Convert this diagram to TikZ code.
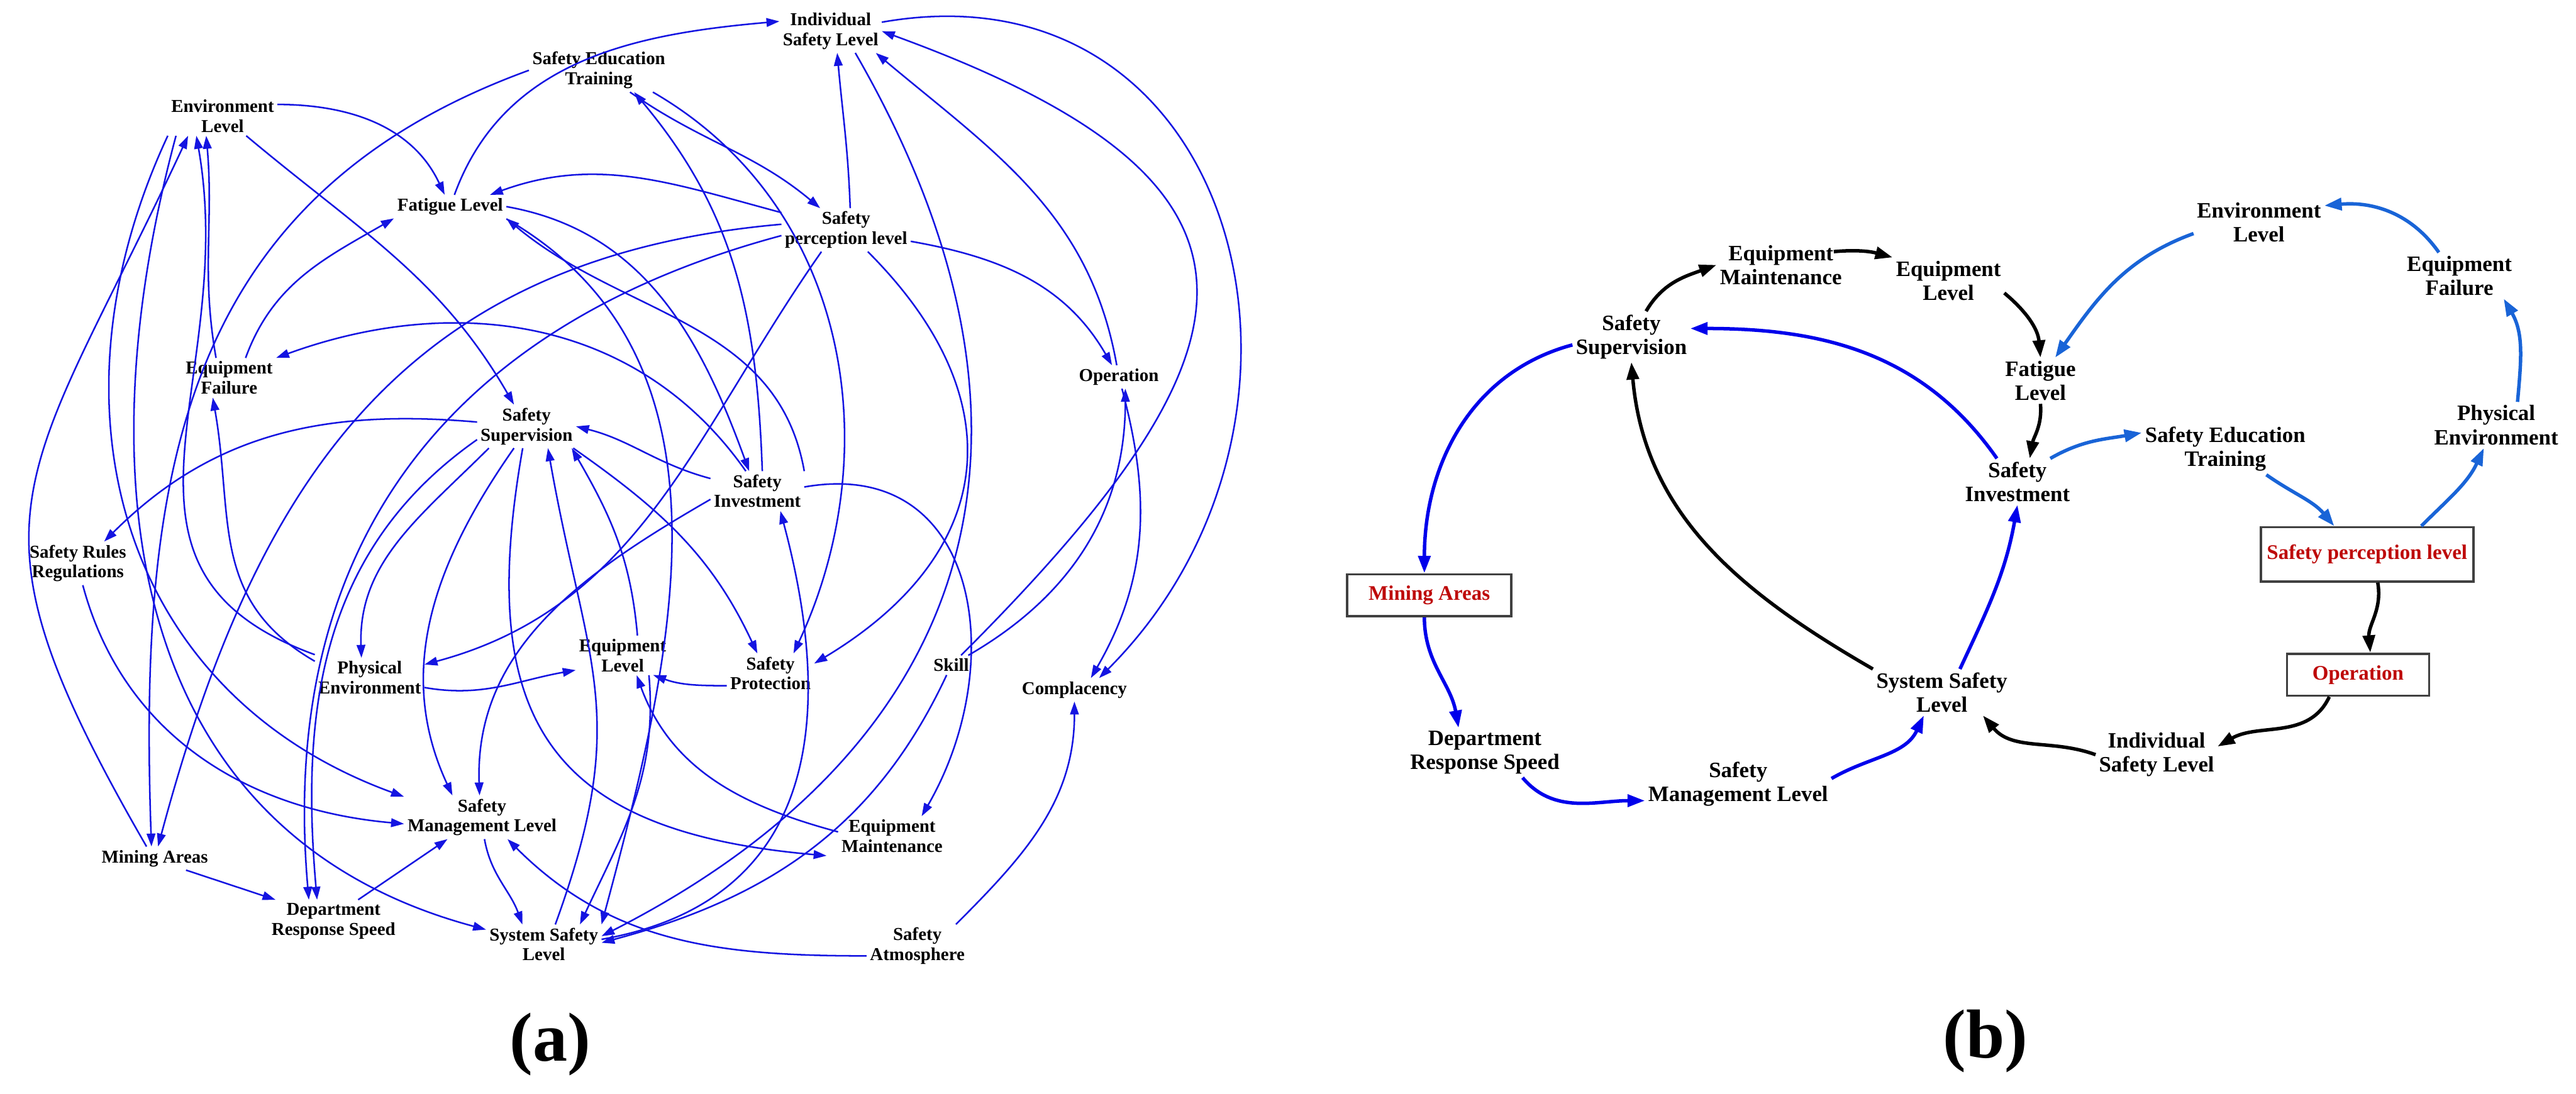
\documentclass[tikz,border=0pt]{standalone}
\usepackage{fontspec}
\setmainfont{Liberation Serif}
\usetikzlibrary{arrows.meta}
\definecolor{linka}{RGB}{20,20,225}
\definecolor{linkb}{RGB}{0,0,235}
\definecolor{linkc}{RGB}{25,100,215}
\definecolor{boxred}{RGB}{190,10,10}
\tikzstyle{vara} = [align=center, inner sep=1pt, font=\fontsize{6.3}{6.9}\selectfont\bfseries]
\tikzstyle{varb} = [align=center, inner sep=1pt, font=\fontsize{7.6}{8.3}\selectfont\bfseries]
\tikzstyle{keyvar} = [rectangle, draw=black!75, line width=0.8pt, fill=white, text=boxred,
    inner sep=1pt, font=\fontsize{7.2}{8}\selectfont\bfseries]
\tikzstyle{panel} = [font=\fontsize{24}{28}\selectfont\bfseries]
\tikzstyle{arra} = [color=linka, line width=0.55pt, -{Triangle[length=4.5pt,width=3pt]}]
\tikzstyle{arrb} = [color=linkb, line width=1.2pt, -{Triangle[length=6pt,width=4.2pt]}]
\tikzstyle{arrl} = [color=linkc, line width=1.2pt, -{Triangle[length=6pt,width=4.2pt]}]
\tikzstyle{arrk} = [color=black, line width=1.2pt, -{Triangle[length=6pt,width=4.2pt]}]

\begin{document}
\begin{tikzpicture}[x=0.02cm, y=0.02cm]
\useasboundingbox (0,0) rectangle (1568,-666);

\node (isl) [vara] at (505.6,-19) {Individual\\Safety Level};
\node (set) [vara] at (364.5,-42.8) {Safety Education\\Training};
\node (envl) [vara] at (135.5,-70.6) {Environment\\Level};
\node (fatig) [vara] at (274,-125.8) {Fatigue Level};
\node (spl) [vara] at (515,-140) {Safety\\perception level};
\node (oper) [vara] at (681,-229.5) {Operation};
\node (eqfail) [vara] at (139.5,-230) {Equipment\\Failure};
\node (superv) [vara] at (320.5,-259.6) {Safety\\Supervision};
\node (invest) [vara] at (461,-299) {Safety\\Investment};
\node (rules) [vara] at (47.4,-343) {Safety Rules\\Regulations};
\node (physenv) [vara] at (225,-412.6) {Physical\\Environment};
\node (eqlevel) [vara] at (379,-399) {Equipment\\Level};
\node (protect) [vara] at (469,-410) {Safety\\Protection};
\node (skill) [vara] at (579,-405) {Skill};
\node (compl) [vara] at (654,-420) {Complacency};
\node (mgmt) [vara] at (293.4,-497.6) {Safety\\Management Level};
\node (eqmaint) [vara] at (543,-509) {Equipment\\Maintenance};
\node (mining) [vara] at (94.2,-522.6) {Mining Areas};
\node (dept) [vara] at (203,-560.8) {Department\\Response Speed};
\node (syssafe) [vara] at (331,-575) {System Safety\\Level};
\node (atmos) [vara] at (558.4,-576) {Safety\\Atmosphere};
\node (labela) [panel] at (335,-636) {(a)};

\draw[arra] ([yshift=0.14cm]envl.east) to[out=0,in=115] (fatig);
\draw[arra] (envl) to[out=-40,in=120] (superv);
\draw[arra] (fatig) to[out=70,in=185] ([yshift=0.12cm]isl.west);
\draw[arra] (set) to[out=-35,in=140] (spl);
\draw[arra] ([xshift=0.06cm]invest.north) to[out=92,in=-50] ([xshift=0.43cm]set.south);
\draw[arra] (set.-22) to[out=-30,in=65] ([xshift=0.28cm]protect.north);
\draw[arra] (set.west) to[out=200,in=92,looseness=1.1] ([xshift=-0.04cm]mining.north);
\draw[arra] ([xshift=0.05cm]spl.north) to[out=92,in=-85] ([xshift=0.08cm]isl.south);
\draw[arra] (spl) to[out=-10,in=120] (oper);
\draw[arra] (spl.165) to[out=165,in=20] ([xshift=-0.2cm]fatig.north east);
\draw[arra] (spl) to[out=-45,in=31,looseness=1.3] ([yshift=0.12cm]protect.east);
\draw[arra] (spl.175) to[out=185,in=75,looseness=1.1] ([xshift=0.04cm]mining.north);
\draw[arra] (spl.185) to[out=195,in=95,looseness=1.1] ([xshift=-0.3cm]dept.north);
\draw[arra] ([xshift=-0.3cm]spl.south) to[out=235,in=15] ([yshift=0.16cm]physenv.east);
\draw[arra] (oper) to[out=100,in=-40] ([xshift=0.55cm]isl.south);
\draw[arra] (oper) to[out=-75,in=60] ([xshift=0.2cm]compl.north);
\draw[arra] (skill) to[out=30,in=-90] ([xshift=0.08cm]oper.south);
\draw[arra] (skill) to[out=45,in=-20,looseness=1.8] (isl.east);
\draw[arra] (isl.10) to[out=10,in=45,looseness=1.35] ([xshift=0.3cm]compl.north);
\draw[arra] ([xshift=0.3cm]isl.south) to[out=-60,in=27,looseness=1.2] ([yshift=0.1cm]syssafe.east);
\draw[arra] (skill) to[out=-115,in=15] ([yshift=0.02cm]syssafe.east);
\draw[arra] (invest.5) to[out=10,in=60,looseness=1.3] ([xshift=0.36cm]eqmaint.north);
\draw[arra] (invest.165) to[out=165,in=-14] (superv.east);
\draw[arra] (invest.120) to[out=125,in=20] (eqfail.north east);
\draw[arra] (invest.190) to[out=210,in=92] ([xshift=-0.03cm]mgmt.north);
\draw[arra] (syssafe.5) to[out=10,in=-75,looseness=1.2] ([xshift=0.28cm]invest.south);
\draw[arra] ([yshift=-0.15cm]protect.west) to[out=180,in=-20] ([xshift=-0.2cm,yshift=-0.24cm]eqlevel.east);
\draw[arra] ([yshift=0.05cm]eqmaint.west) to[out=165,in=-70] ([xshift=0.17cm]eqlevel.south);
\draw[arra] (superv.-100) to[out=-100,in=175,looseness=1.4] ([xshift=-0.14cm,yshift=-0.24cm]eqmaint.west);
\draw[arra] (superv.-25) to[out=-35,in=115] ([xshift=-0.16cm]protect.north);
\draw[arra] (superv.175) to[out=175,in=45] ([xshift=0.32cm]rules.north);
\draw[arra] (superv.-150) to[out=225,in=92] ([xshift=-0.1cm]physenv.north);
\draw[arra] (superv.-120) to[out=235,in=115] ([xshift=-0.36cm]mgmt.north);
\draw[arra] (superv.195) to[out=215,in=95] ([xshift=-0.2cm]dept.north);
\draw[arra] ([xshift=0.14cm]syssafe.north) to[out=70,in=-80,looseness=1.2] ([xshift=0.26cm]superv.south);
\draw[arra] ([xshift=0.18cm]eqlevel.north) to[out=95,in=-60] ([xshift=0.55cm]superv.south);
\draw[arra] ([xshift=0.32cm]eqlevel.south) to[out=-85,in=65] ([xshift=0.44cm]syssafe.north);
\draw[arra] ([yshift=-0.12cm]physenv.east) to[out=-10,in=190] ([yshift=-0.18cm]eqlevel.west);
\draw[arra] ([yshift=0.2cm]physenv.west) to[out=150,in=-80,looseness=1.1] ([xshift=-0.2cm]eqfail.south);
\draw[arra] ([yshift=0.28cm]physenv.west) to[out=160,in=-80,looseness=1.2] ([xshift=-0.32cm]envl.south);
\draw[arra] ([xshift=-0.1cm]mining.north) to[out=120,in=-115,looseness=1.4] ([xshift=-0.42cm]envl.south);
\draw[arra] ([xshift=-0.16cm]eqfail.north) to[out=100,in=-85] ([xshift=-0.2cm]envl.south);
\draw[arra] ([xshift=0.2cm]eqfail.north) to[out=70,in=210] (fatig.south west);
\draw[arra] (envl.south west) to[out=-115,in=160,looseness=1.1] ([yshift=0.25cm]mgmt.west);
\draw[arra] ([xshift=0.1cm]envl.south west) to[out=-105,in=165,looseness=1.1] ([yshift=0.18cm]syssafe.west);
\draw[arra] ([xshift=0.06cm]rules.south) to[out=-75,in=175] ([yshift=-0.08cm]mgmt.west);
\draw[arra] ([xshift=0.38cm]mining.south) -- ([xshift=0.09cm]dept.north west);
\draw[arra] ([xshift=0.3cm]dept.north) -- ([xshift=-0.42cm]mgmt.south);
\draw[arra] ([xshift=0.03cm]mgmt.south) to[out=-80,in=110] ([xshift=-0.26cm]syssafe.north);
\draw[arra] ([yshift=-0.12cm]atmos.west) to[out=180,in=-45] ([xshift=0.31cm]mgmt.south);
\draw[arra] ([xshift=0.47cm]atmos.north) to[out=45,in=-90] (compl.south);
\draw[arra] (invest.north east) to[out=100,in=-40] (fatig.south east);
\draw[arra] (fatig.east) to[out=-10,in=110] ([xshift=-0.1cm]invest.north);
\draw[arra] ([yshift=-0.15cm]fatig.east) to[out=-30,in=75] (syssafe.north east);

\node (supervb) [varb] at (993,-205) {Safety\\Supervision};
\node (eqmaintb) [varb] at (1084,-161.3) {Equipment\\Maintenance};
\node (eqlevelb) [varb] at (1186,-170.8) {Equipment\\Level};
\node (envlb) [varb] at (1375,-135.2) {Environment\\Level};
\node (eqfailb) [varb] at (1497,-167.8) {Equipment\\Failure};
\node (fatigb) [varb] at (1242,-231.8) {Fatigue\\Level};
\node (setb) [varb] at (1354.5,-273.5) {Safety Education\\Training};
\node (investb) [varb] at (1228,-293.3) {Safety\\Investment};
\node (physenvb) [varb] at (1519.4,-258.8) {Physical\\Environment};
\node (splb) [keyvar, minimum width=2.59cm, minimum height=0.66cm] at (1440.8,-337.5) {Safety perception level};
\node (operb) [keyvar, minimum width=1.73cm, minimum height=0.51cm] at (1435.3,-410.8) {Operation};
\node (miningb) [keyvar, minimum width=2cm, minimum height=0.51cm] at (870,-362.4) {Mining Areas};
\node (syssafeb) [varb] at (1182,-421.5) {System Safety\\Level};
\node (islb) [varb] at (1312.7,-459.5) {Individual\\Safety Level};
\node (deptb) [varb] at (903.8,-458.3) {Department\\Response Speed};
\node (mgmtb) [varb] at (1058,-477.5) {Safety\\Management Level};
\node (labelb) [panel] at (1208.6,-634) {(b)};

\draw[arrk] (supervb.60) to[out=60,in=200] (eqmaintb.west);
\draw[arrk] ([xshift=-0.14cm,yshift=-0.12cm]eqmaintb.north east) to[out=5,in=165] (eqlevelb.north west);
\draw[arrk] ([yshift=0.13cm]eqlevelb.south east) to[out=-40,in=95] (fatigb.north);
\draw[arrk] (fatigb.south) to[out=-85,in=80] ([xshift=0.15cm]investb.north);
\draw[arrb] ([xshift=-0.25cm]investb.north) to[out=125,in=0] ([yshift=0.1cm]supervb.east);
\draw[arrl] ([xshift=0.4cm]investb.north) to[out=30,in=190] ([yshift=0.2cm]setb.west);
\draw[arrl] ([xshift=0.5cm]setb.south) to[out=-35,in=130] ([xshift=-0.4cm]splb.north);
\draw[arrl] ([xshift=0.66cm]splb.north) to[out=45,in=-115] ([xshift=-0.15cm]physenvb.south);
\draw[arrl] ([xshift=0.26cm]physenvb.north) to[out=85,in=-60] ([xshift=0.54cm]eqfailb.south);
\draw[arrl] ([xshift=-0.25cm]eqfailb.north) to[out=125,in=5] ([yshift=0.2cm]envlb.east);
\draw[arrl] ([yshift=-0.14cm]envlb.west) to[out=200,in=55] ([xshift=0.18cm]fatigb.north);
\draw[arrk] ([xshift=0.13cm]splb.south) to[out=-80,in=95] ([xshift=0.15cm]operb.north);
\draw[arrk] ([xshift=-0.35cm]operb.south) to[out=-115,in=30] ([yshift=0.1cm]islb.east);
\draw[arrk] (islb.west) to[out=160,in=-50] ([xshift=0.5cm]syssafeb.south);
\draw[arrk] (syssafeb.north west) to[out=150,in=-85] (supervb.south);
\draw[arrb] ([xshift=0.22cm]syssafeb.north) to[out=65,in=-100] (investb.south);
\draw[arrb] ([yshift=-0.1cm]supervb.west) to[out=195,in=90] ([xshift=-0.06cm]miningb.north);
\draw[arrb] ([xshift=-0.06cm]miningb.south) to[out=-90,in=100] ([xshift=-0.32cm]deptb.north);
\draw[arrb] ([xshift=0.46cm]deptb.south) to[out=-50,in=180] ([yshift=-0.2cm]mgmtb.west);
\draw[arrb] ([yshift=0.07cm]mgmtb.east) to[out=30,in=-115] ([xshift=-0.22cm]syssafeb.south);
\end{tikzpicture}
\end{document}
